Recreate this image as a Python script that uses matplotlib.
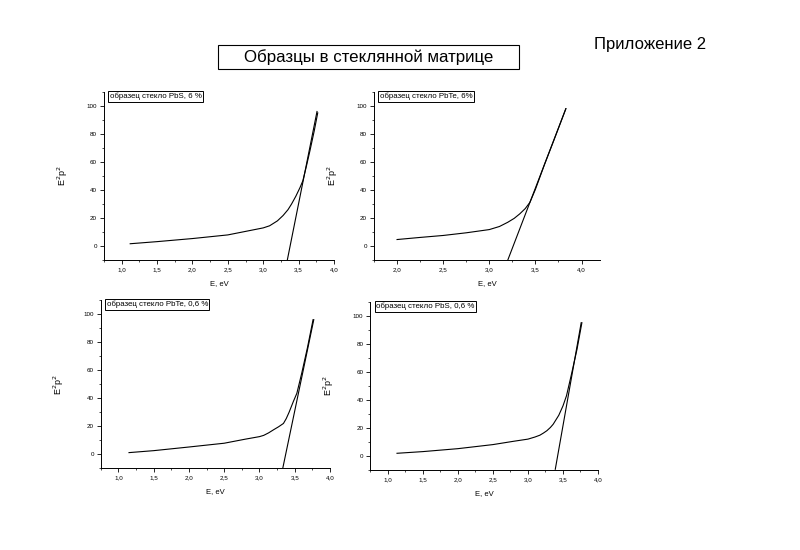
import matplotlib
matplotlib.use("Agg")
import matplotlib.pyplot as plt
from matplotlib.patches import Rectangle
from matplotlib.ticker import MultipleLocator, FuncFormatter

plt.rcParams['font.family'] = ['Liberation Sans', 'DejaVu Sans']

# panel labels
labels = ["образец стекло PbS, 6 %", "образец стекло PbTe, 6%",
          "образец стекло PbTe, 0,6 %", "образец стекло PbS, 0,6 %"]

# measured curves (E, eV ; E^2 p^2)
E_pbs6 = [1.12, 1.5, 2.0, 2.5, 2.8, 3.0, 3.09, 3.2, 3.28, 3.35, 3.4, 3.46, 3.52, 3.56, 3.61, 3.66, 3.72, 3.77]
y_pbs6 = [1.7, 3.2, 5.4, 8.0, 11.0, 13.0, 14.5, 18.0, 21.8, 26.0, 30.0, 35.5, 41.8, 46.6, 57.0, 68.0, 82.0, 95.0]

E_pbte6 = [2.0, 2.25, 2.5, 2.75, 3.0, 3.11, 3.2, 3.27, 3.33, 3.39, 3.44, 3.5, 3.6, 3.7, 3.83]
y_pbte6 = [4.7, 6.2, 7.6, 9.5, 11.8, 14.0, 17.0, 19.8, 23.0, 26.8, 31.2, 40.5, 58.5, 75.5, 98.0]

E_pbte06 = [1.15, 1.5, 2.0, 2.5, 2.8, 3.0, 3.06, 3.13, 3.2, 3.27, 3.34, 3.38, 3.42, 3.48, 3.53, 3.6, 3.68, 3.76]
y_pbte06 = [1.2, 2.6, 5.2, 7.9, 10.8, 12.6, 13.5, 15.3, 17.5, 19.6, 22.0, 25.5, 30.0, 37.6, 43.5, 58.0, 76.0, 96.0]

E_pbs06 = [1.13, 1.5, 2.0, 2.5, 2.8, 3.0, 3.1, 3.17, 3.22, 3.27, 3.32, 3.36, 3.44, 3.5, 3.55, 3.62, 3.7, 3.77]
y_pbs06 = [1.9, 3.1, 5.2, 8.1, 10.5, 12.0, 13.5, 14.8, 16.3, 18.0, 20.3, 22.6, 29.0, 35.7, 42.9, 58.0, 76.0, 95.0]

# tangent lines (two end points each)
fit_E = [[3.34, 3.76], [3.20, 3.83], [3.33, 3.77], [3.39, 3.76]]
fit_y = [[-10, 96], [-10, 98], [-10, 96], [-9.5, 95]]

curves = [(E_pbs6, y_pbs6), (E_pbte6, y_pbte6), (E_pbte06, y_pbte06), (E_pbs06, y_pbs06)]
xlims = [(0.75, 4.0), (1.75, 4.2), (0.75, 4.0), (0.75, 4.0)]

# axes rectangles in figure fraction
boxes = [[0.130, 0.527, 0.2875, 0.306],
         [0.4675, 0.527, 0.2825, 0.306],
         [0.126, 0.1485, 0.2865, 0.306],
         [0.463, 0.1455, 0.2845, 0.306]]

fig = plt.figure(figsize=(8, 5.5), dpi=100)
fig.patch.set_facecolor('white')

comma = FuncFormatter(lambda v, p: f"{v:.1f}".replace('.', ','))

for i in range(4):
    ax = fig.add_axes(boxes[i])
    E, y = curves[i]
    ax.plot(E, y, color='black', lw=0.8)
    ax.plot(fit_E[i], fit_y[i], color='black', lw=0.8)
    ax.set_xlim(*xlims[i])
    ax.set_ylim(-10, 110)
    ax.spines['top'].set_visible(False)
    ax.spines['right'].set_visible(False)
    ax.spines['left'].set_linewidth(0.7)
    ax.spines['bottom'].set_linewidth(0.7)
    ax.xaxis.set_major_locator(MultipleLocator(0.5))
    ax.xaxis.set_minor_locator(MultipleLocator(0.25))
    ax.xaxis.set_major_formatter(comma)
    ax.yaxis.set_major_locator(MultipleLocator(20))
    ax.yaxis.set_minor_locator(MultipleLocator(10))
    ax.tick_params(which='major', direction='out', length=3, width=0.6, labelsize=4.5, pad=2)
    ax.tick_params(which='minor', direction='out', length=1.5, width=0.5)
    ax.set_xlabel("E, eV", fontsize=5.5)
    ax.set_ylabel("E$^2$p$^2$", fontsize=6.5)
    ax.xaxis.set_label_coords(0.5, -0.12)
    ax.yaxis.set_label_coords(-0.15, 0.5)
    ax.text(0.025, 0.995, labels[i], transform=ax.transAxes, fontsize=5.7,
            ha='left', va='top',
            bbox=dict(boxstyle='square,pad=0.2', fc='white', ec='black', lw=0.7))

fig.add_artist(Rectangle((218 / 800, 1 - 69 / 550), 301 / 800, 24 / 550,
                         transform=fig.transFigure, fill=False, ec='black', lw=0.8))
fig.text(368.5 / 800, 1 - 57 / 550, "Образцы в стеклянной матрице",
         fontsize=12.2, ha='center', va='center')
fig.text(650 / 800, 1 - 44 / 550, "Приложение 2", fontsize=12, ha='center', va='center')

fig.savefig("out.png", dpi=100)
